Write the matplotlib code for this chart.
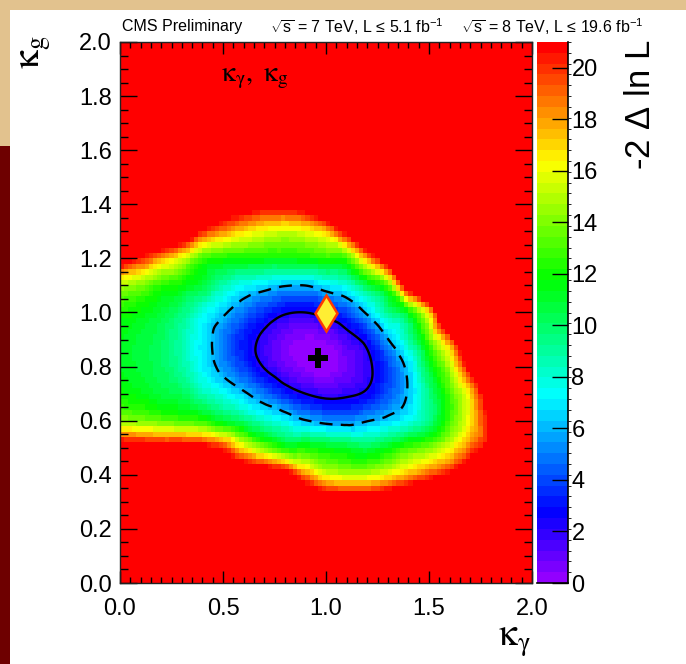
import colorsys
import numpy as np
import matplotlib
matplotlib.use("Agg")
import matplotlib.pyplot as plt
import matplotlib.tri as mtri
from matplotlib.colors import ListedColormap, BoundaryNorm
from matplotlib.patches import Rectangle
from matplotlib.ticker import MultipleLocator, FormatStrFormatter

plt.rcParams['font.family'] = ['Liberation Sans', 'DejaVu Sans']
plt.rcParams['mathtext.fontset'] = 'custom'
plt.rcParams['mathtext.rm'] = 'Liberation Sans'
plt.rcParams['mathtext.it'] = 'Liberation Sans:italic'
plt.rcParams['mathtext.bf'] = 'Liberation Sans:bold'

# ---------------- data ----------------
kgamma_nodes = [0.0, 0.1, 0.2, 0.3, 0.4, 0.5, 0.6, 0.7, 0.8, 0.9, 1.0,
                1.1, 1.2, 1.3, 1.4, 1.5, 1.6, 1.7, 1.8, 1.9, 2.0]
kg_nodes = [0.0, 0.1, 0.2, 0.3, 0.4, 0.5, 0.6, 0.7, 0.8, 0.9, 1.0,
            1.1, 1.2, 1.3, 1.4, 1.5, 1.6, 1.7, 1.8, 1.9, 2.0]
# -2 Delta lnL, rows = kg nodes (bottom to top), columns = kgamma nodes
nll_rows = [
    [40]*21,                                                              # 0.0
    [40]*21,                                                              # 0.1
    [40]*21,                                                              # 0.2
    [40, 39, 37, 36, 35, 34, 33, 31, 30, 27, 25, 24.5, 24.5, 25.5, 27, 29, 33, 40, 40, 40, 40],  # 0.3
    [31, 30, 29, 28, 27, 26.5, 25, 24, 22.5, 18.5, 15.8, 15.2, 15.2, 16.3, 17.8, 19.5, 21.5, 26, 34, 40, 40],  # 0.4
    [23, 22.5, 22, 22, 21.5, 20, 16.5, 14, 12, 12, 11.5, 11, 10.5, 11.5, 13, 14, 16, 19, 23, 32, 40],  # 0.5
    [14.5, 14, 13.5, 13, 12.5, 11, 9.8, 8.4, 7.4, 6.1, 5.4, 5.2, 5.9, 6.6, 7.6, 9.5, 13, 16.5, 22, 30, 40],  # 0.6
    [12, 11.5, 10.8, 10.3, 8.8, 7.6, 6.3, 4.8, 3.3, 2.3, 1.8, 2.0, 2.6, 4.3, 6.2, 9.5, 13, 17, 24, 32, 40],  # 0.7
    [11.3, 10.8, 10.2, 9.0, 7.2, 5.4, 3.8, 2.2, 1.0, 0.25, 0.05, 0.8, 1.9, 3.9, 6.6, 11, 15, 22, 30, 37, 40],  # 0.8
    [11.4, 10.8, 10.2, 8.8, 7.0, 4.9, 3.2, 1.9, 0.7, 0.3, 0.5, 1.6, 2.9, 5.9, 8.8, 13.5, 19, 30, 38, 40, 40],  # 0.9
    [12.2, 11.6, 10.8, 9.6, 7.8, 6.3, 4.8, 3.5, 2.5, 2.3, 2.9, 4.0, 6.3, 9.3, 11.5, 17, 28, 38, 40, 40, 40],  # 1.0
    [15, 14, 12.5, 11.8, 10.8, 8.8, 7.5, 6.8, 6.1, 6.0, 7.0, 8.0, 10.5, 13.5, 23, 29, 36, 40, 40, 40, 40],  # 1.1
    [23, 20.5, 18, 15.8, 13, 12.2, 12, 11.8, 11.8, 12, 12.5, 13, 18, 24, 33, 36, 40, 40, 40, 40, 40],  # 1.2
    [31, 29, 27, 25, 20.5, 18.5, 17, 16, 15.5, 16, 17.5, 22, 28, 33, 38, 40, 40, 40, 40, 40, 40],  # 1.3
    [40, 38, 36, 34, 29, 25, 23, 22, 22, 23, 26, 31, 37, 40, 40, 40, 40, 40, 40, 40, 40],  # 1.4
    [40, 40, 40, 40, 38, 35, 32, 30, 30, 31, 34, 40, 40, 40, 40, 40, 40, 40, 40, 40, 40],  # 1.5
    [40]*21,                                                              # 1.6
    [40]*21,                                                              # 1.7
    [40]*21,                                                              # 1.8
    [40]*21,                                                              # 1.9
    [40]*21,                                                              # 2.0
]
best_fit = (0.96, 0.83)
sm_point = (1.0, 1.0)
cl_levels = [2.30, 5.99]
z_max = 21.0
cbar_ticks = [0, 2, 4, 6, 8, 10, 12, 14, 16, 18, 20]
title_parts = ['CMS Preliminary',
               r'$\sqrt{\mathrm{s}}$ = 7 TeV, L ≤ 5.1 fb$^{-1}$',
               r'$\sqrt{\mathrm{s}}$ = 8 TeV, L ≤ 19.6 fb$^{-1}$']
title_starts_px = [122, 270, 461]

# ---------------- figure ----------------
W, H = 686, 664
fig = plt.figure(figsize=(W / 100, H / 100), dpi=100)
fig.patch.set_facecolor('white')

def fx(px):
    return px / W

def fy(py):
    return 1 - py / H

# slide background strips
fig.patches.append(Rectangle((0, fy(10)), 1, 10 / H, transform=fig.transFigure,
                             facecolor='#e2c28e', edgecolor='none', zorder=0))
fig.patches.append(Rectangle((0, fy(146)), fx(10), 146 / H, transform=fig.transFigure,
                             facecolor='#e2c28e', edgecolor='none', zorder=0))
fig.patches.append(Rectangle((0, 0), fx(10), fy(146), transform=fig.transFigure,
                             facecolor='#6e0000', edgecolor='none', zorder=0))

L, R, T, B = 120, 532, 42, 583
ax = fig.add_axes([fx(L), fy(B), fx(R - L), (B - T) / H])
cax = fig.add_axes([fx(537), fy(B), fx(568 - 537), (B - T) / H])

# ROOT "pretty" palette: 50 colours violet -> red
pal = [colorsys.hls_to_rgb((280 - (i + 1) * 5.6) / 360.0, 0.5, 1.0) for i in range(49)]
pal.append((1.0, 0.0, 0.0))
cmap = ListedColormap(pal)
norm = BoundaryNorm(np.linspace(0, z_max, 51), 50)

X, Y = np.meshgrid(np.array(kgamma_nodes), np.array(kg_nodes))
Z = np.array(nll_rows, dtype=float)
tri = mtri.Triangulation(X.ravel(), Y.ravel())
interp = mtri.CubicTriInterpolator(tri, Z.ravel(), kind='geom')

nb = 100
edges = np.linspace(0, 2, nb + 1)
centers = 0.5 * (edges[:-1] + edges[1:])
XC, YC = np.meshgrid(centers, centers)
ZC = np.ma.filled(interp(XC, YC), z_max)
ZC = np.clip(ZC, 0, z_max - 1e-3)
ax.pcolormesh(edges, edges, ZC, cmap=cmap, norm=norm, shading='flat', zorder=1)

refiner = mtri.UniformTriRefiner(tri)
tri_r, z_r = refiner.refine_field(Z.ravel(), triinterpolator=interp, subdiv=4)
ax.tricontour(tri_r, z_r, levels=[cl_levels[0]], colors='black', linewidths=1.7,
              linestyles='solid', zorder=3)
cs2 = ax.tricontour(tri_r, z_r, levels=[cl_levels[1]], colors='black', linewidths=1.7,
                    zorder=3)
for c in cs2.collections if hasattr(cs2, 'collections') else [cs2]:
    c.set_dashes([(0, (5.5, 3.5))])

ax.plot([best_fit[0]], [best_fit[1]], marker='P', ms=14, color='black',
        mec='black', mew=0, linestyle='none', zorder=5)
ax.plot([sm_point[0]], [sm_point[1]], marker='d', ms=18, mfc='#ffee33',
        mec='#ff3a00', mew=1.8, linestyle='none', zorder=5)

ax.set_xlim(0, 2)
ax.set_ylim(0, 2)
ax.xaxis.set_major_locator(MultipleLocator(0.5))
ax.xaxis.set_minor_locator(MultipleLocator(0.05))
ax.yaxis.set_major_locator(MultipleLocator(0.2))
ax.yaxis.set_minor_locator(MultipleLocator(0.05))
ax.xaxis.set_major_formatter(FormatStrFormatter('%.1f'))
ax.yaxis.set_major_formatter(FormatStrFormatter('%.1f'))
ax.tick_params(which='both', direction='in', top=True, right=True, colors='black',
               labelsize=17, width=1)
ax.tick_params(axis='x', which='major', length=8.5, pad=11)
ax.tick_params(axis='x', which='minor', length=4.2)
ax.tick_params(axis='y', which='major', length=12, pad=6)
ax.tick_params(axis='y', which='minor', length=5.8)
for sp in ax.spines.values():
    sp.set_linewidth(1.0)
    sp.set_color('#222222')
    sp.set_zorder(6)

# colour bar
sm = matplotlib.cm.ScalarMappable(norm=norm, cmap=cmap)
cb = fig.colorbar(sm, cax=cax, ticks=cbar_ticks, spacing='uniform')
cb.outline.set_visible(False)
cax.set_ylim(0, z_max)
cax.tick_params(direction='in', length=11.5, width=1, labelsize=17, pad=2.5,
                right=True, left=False, colors='black')
cax.set_yticklabels([str(t) for t in cbar_ticks])
cax.plot([1, 1], [0, 1], transform=cax.transAxes, color='black', lw=1.2,
         clip_on=False, zorder=10)
cax.plot([0, 1], [0, 0], transform=cax.transAxes, color='black', lw=1.2,
         clip_on=False, zorder=10)

# texts
for part, x0 in zip(title_parts, title_starts_px):
    fig.text(fx(x0), fy(27), part, fontsize=11.5, ha='left', va='center')
fig.text(fx(221), fy(78), r'$\mathrm{\kappa}_{\mathrm{\gamma}},\ \mathrm{\kappa}_{\mathrm{g}}$',
         fontsize=20, ha='left', va='center', math_fontfamily='stix')
fig.text(fx(531), fy(623), r'$\mathrm{\kappa}_{\mathrm{\gamma}}$', fontsize=27,
         ha='right', va='top', math_fontfamily='stix')
fig.text(fx(35), fy(35), r'$\mathrm{\kappa}_{\mathrm{g}}$', fontsize=27, rotation=90,
         ha='center', va='top', math_fontfamily='stix')
fig.text(fx(641), fy(40), r'-2 $\Delta$ ln L', fontsize=25, rotation=90,
         ha='center', va='top')

fig.savefig('out.png', dpi=100, facecolor=fig.get_facecolor())
